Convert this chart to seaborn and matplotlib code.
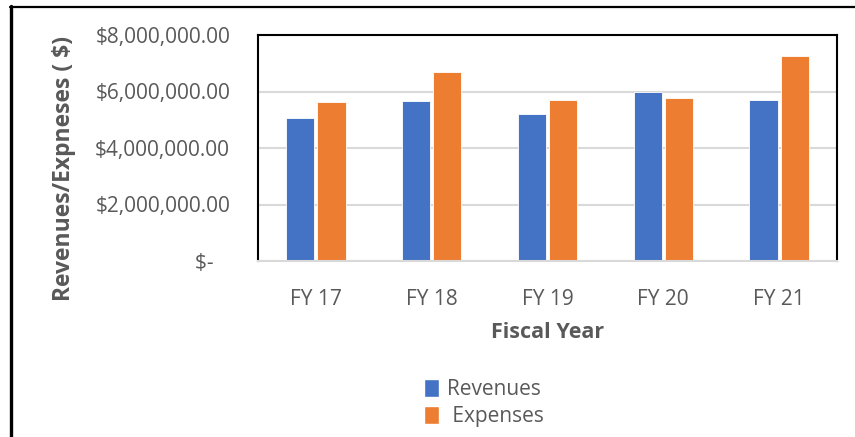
import matplotlib
matplotlib.use("Agg")
import matplotlib.pyplot as plt
import seaborn as sns
import pandas as pd
from matplotlib.patches import Patch
from matplotlib.lines import Line2D

years = ["FY 17", "FY 18", "FY 19", "FY 20", "FY 21"]
revenues = [5050000, 5650000, 5200000, 5970000, 5700000]
expenses = [5620000, 6680000, 5690000, 5760000, 7260000]
series_names = ["Revenues", " Expenses"]
yticks = [0, 2000000, 4000000, 6000000, 8000000]
ytick_labels = ["$-   ", "$2,000,000.00", "$4,000,000.00", "$6,000,000.00", "$8,000,000.00"]

colors = ["#4472C4", "#ED7D31"]

df = pd.DataFrame({
    "Fiscal Year": years * 2,
    "Value": revenues + expenses,
    "Series": [series_names[0]] * len(years) + [series_names[1]] * len(years),
})

sns.set_style("white")
plt.rcParams["font.family"] = ["Open Sans", "DejaVu Sans"]

fig = plt.figure(figsize=(8.55, 4.37), dpi=100)
ax = fig.add_axes([258/855, 1 - 261/437, (837-258)/855, (261-35)/437])

sns.barplot(data=df, x="Fiscal Year", y="Value", hue="Series", palette=colors,
            width=0.54, gap=0.1, ax=ax, edgecolor="white", linewidth=0.6,
            saturation=1, errorbar=None)

ax.set_ylim(0, 8000000)
ax.set_xlim(-0.5, len(years) - 0.5)
ax.set_yticks(yticks)
ax.set_yticklabels(ytick_labels)
ax.yaxis.grid(True, color="#D9D9D9", linewidth=1.5)
ax.set_axisbelow(True)
ax.tick_params(axis="both", length=0, labelsize=15, colors="#595959")
ax.tick_params(axis="y", pad=20)
ax.tick_params(axis="x", pad=20)

for s in ["left", "top", "right"]:
    ax.spines[s].set_visible(True)
    ax.spines[s].set_color("black")
    ax.spines[s].set_linewidth(1.5)
ax.spines["bottom"].set_color("#D9D9D9")
ax.spines["bottom"].set_linewidth(1.5)

ax.set_xlabel("Fiscal Year", fontsize=15.5, fontweight="bold", color="#595959", labelpad=9)
ax.set_ylabel("Revenues/Expneses ( $)", fontsize=16.5, fontweight="bold", color="#595959")
ax.yaxis.set_label_coords((76 - 258) / 579, 0.41)

if ax.get_legend() is not None:
    ax.get_legend().remove()
handles = [Patch(facecolor=c, edgecolor="white") for c in colors]
fig.legend(handles, series_names, loc="center", bbox_to_anchor=(484/855, 1 - 403/437),
           frameon=False, fontsize=15, labelcolor="#595959", handlelength=0.7,
           handleheight=0.95, handletextpad=0.4, labelspacing=0.25, borderpad=0)

fig.add_artist(Line2D([11/855, 11/855], [0, 1 - 6/437], color="black", linewidth=2.4,
                      transform=fig.transFigure))
fig.add_artist(Line2D([10/855, 1], [1 - 7/437, 1 - 7/437], color="black", linewidth=1.6,
                      transform=fig.transFigure))

fig.savefig("out.png", dpi=100)
